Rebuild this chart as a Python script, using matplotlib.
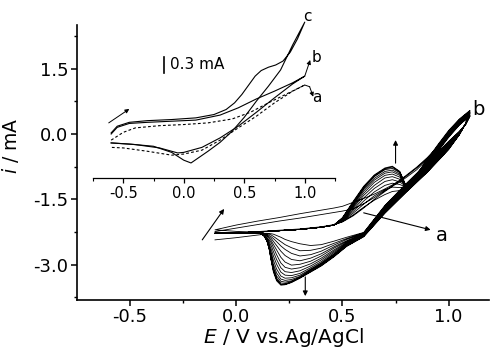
import matplotlib
matplotlib.use("Agg")
import matplotlib.pyplot as plt

plt.rcParams['font.family'] = ['DejaVu Sans']

# -------- MAIN CV: repeated cycles (mA) --------
E_fwd = [-0.10, 0.00, 0.10, 0.20, 0.30, 0.40, 0.46, 0.50, 0.55, 0.60, 0.65,
         0.70, 0.735, 0.77, 0.80, 0.85, 0.90, 0.95, 1.00, 1.05, 1.10]
I_fwd = [
    [-2.20, -2.09, -2.00, -1.92, -1.83, -1.75, -1.70, -1.66, -1.57, -1.48, -1.38, -1.26, -1.17, -1.06, -0.95, -0.76, -0.54, -0.28, 0.00, 0.22, 0.40],
    [-2.24, -2.16, -2.08, -2.00, -1.93, -1.85, -1.80, -1.77, -1.72, -1.60, -1.46, -1.30, -1.19, -1.07, -0.97, -0.78, -0.56, -0.30, -0.01, 0.22, 0.41],
    [-2.28, -2.26, -2.24, -2.21, -2.18, -2.13, -2.08, -2.02, -1.88, -1.70, -1.50, -1.32, -1.20, -1.10, -1.00, -0.82, -0.58, -0.31, -0.02, 0.22, 0.41],
    [-2.28, -2.27, -2.25, -2.22, -2.19, -2.14, -2.09, -2.01, -1.86, -1.68, -1.52, -1.39, -1.32, -1.30, -1.22, -1.02, -0.72, -0.40, -0.08, 0.20, 0.42],
    [-2.28, -2.27, -2.25, -2.22, -2.19, -2.14, -2.09, -2.00, -1.82, -1.61, -1.42, -1.28, -1.22, -1.23, -1.22, -1.01, -0.71, -0.38, -0.06, 0.21, 0.43],
    [-2.28, -2.27, -2.25, -2.22, -2.19, -2.14, -2.09, -1.99, -1.78, -1.54, -1.33, -1.18, -1.13, -1.16, -1.22, -1.00, -0.69, -0.37, -0.05, 0.23, 0.44],
    [-2.28, -2.27, -2.25, -2.22, -2.19, -2.14, -2.09, -1.98, -1.74, -1.47, -1.25, -1.09, -1.05, -1.10, -1.21, -0.99, -0.68, -0.35, -0.03, 0.24, 0.46],
    [-2.28, -2.27, -2.25, -2.22, -2.19, -2.14, -2.09, -1.97, -1.70, -1.41, -1.18, -1.01, -0.98, -1.04, -1.21, -0.98, -0.66, -0.34, -0.02, 0.26, 0.47],
    [-2.28, -2.27, -2.25, -2.22, -2.19, -2.14, -2.09, -1.96, -1.67, -1.36, -1.11, -0.95, -0.92, -0.99, -1.21, -0.97, -0.65, -0.32, 0.00, 0.27, 0.48],
    [-2.28, -2.27, -2.25, -2.22, -2.19, -2.14, -2.09, -1.95, -1.64, -1.31, -1.06, -0.90, -0.87, -0.95, -1.20, -0.96, -0.64, -0.30, 0.02, 0.28, 0.49],
    [-2.28, -2.27, -2.25, -2.22, -2.19, -2.14, -2.09, -1.94, -1.61, -1.27, -1.02, -0.86, -0.83, -0.92, -1.20, -0.95, -0.62, -0.29, 0.03, 0.30, 0.50],
    [-2.28, -2.27, -2.25, -2.22, -2.19, -2.14, -2.09, -1.93, -1.59, -1.24, -0.98, -0.82, -0.79, -0.89, -1.20, -0.94, -0.61, -0.27, 0.05, 0.31, 0.51],
    [-2.28, -2.27, -2.25, -2.22, -2.19, -2.14, -2.09, -1.93, -1.57, -1.22, -0.96, -0.80, -0.76, -0.87, -1.20, -0.93, -0.59, -0.26, 0.06, 0.33, 0.53],
    [-2.28, -2.27, -2.25, -2.22, -2.19, -2.14, -2.09, -1.92, -1.55, -1.20, -0.94, -0.78, -0.74, -0.86, -1.20, -0.92, -0.58, -0.24, 0.08, 0.34, 0.54],
]

E_rev = [1.10, 1.08, 1.05, 1.00, 0.90, 0.80, 0.70, 0.60, 0.52, 0.46, 0.40, 0.35, 0.30,
         0.26, 0.23, 0.21, 0.19, 0.175, 0.165, 0.155, 0.145, 0.13, 0.11, 0.00, -0.10]
I_rev = [
    [0.40, 0.22, 0.06, -0.17, -0.66, -1.14, -1.64, -2.26, -2.37, -2.46, -2.54, -2.56, -2.52, -2.47, -2.42, -2.37, -2.33, -2.30, -2.29, -2.285, -2.28, -2.28, -2.28, -2.28, -2.28],
    [0.41, 0.22, 0.05, -0.18, -0.68, -1.15, -1.65, -2.27, -2.40, -2.51, -2.62, -2.67, -2.68, -2.61, -2.54, -2.47, -2.40, -2.35, -2.32, -2.30, -2.29, -2.28, -2.28, -2.28, -2.28],
    [0.41, 0.22, 0.04, -0.20, -0.70, -1.17, -1.67, -2.28, -2.42, -2.55, -2.69, -2.77, -2.80, -2.74, -2.65, -2.57, -2.47, -2.40, -2.36, -2.33, -2.31, -2.29, -2.28, -2.28, -2.28],
    [0.42, 0.22, 0.03, -0.22, -0.72, -1.19, -1.68, -2.29, -2.45, -2.59, -2.75, -2.85, -2.91, -2.88, -2.79, -2.69, -2.56, -2.46, -2.40, -2.36, -2.33, -2.30, -2.28, -2.28, -2.28],
    [0.43, 0.22, 0.02, -0.24, -0.74, -1.21, -1.70, -2.30, -2.47, -2.62, -2.80, -2.92, -2.99, -3.01, -2.94, -2.83, -2.66, -2.53, -2.45, -2.39, -2.35, -2.31, -2.28, -2.28, -2.28],
    [0.44, 0.23, 0.02, -0.26, -0.76, -1.22, -1.71, -2.31, -2.49, -2.66, -2.85, -2.98, -3.07, -3.10, -3.06, -2.96, -2.77, -2.61, -2.50, -2.43, -2.38, -2.32, -2.28, -2.28, -2.28],
    [0.46, 0.23, 0.01, -0.27, -0.78, -1.24, -1.73, -2.32, -2.51, -2.69, -2.89, -3.03, -3.14, -3.18, -3.16, -3.07, -2.88, -2.70, -2.57, -2.47, -2.40, -2.32, -2.28, -2.28, -2.28],
    [0.47, 0.23, 0.00, -0.29, -0.80, -1.26, -1.74, -2.33, -2.53, -2.72, -2.93, -3.07, -3.20, -3.25, -3.24, -3.17, -2.99, -2.80, -2.65, -2.52, -2.42, -2.33, -2.28, -2.28, -2.28],
    [0.48, 0.24, 0.00, -0.30, -0.81, -1.28, -1.76, -2.33, -2.54, -2.75, -2.96, -3.10, -3.24, -3.30, -3.31, -3.26, -3.10, -2.90, -2.73, -2.57, -2.44, -2.33, -2.28, -2.28, -2.28],
    [0.49, 0.24, -0.01, -0.32, -0.83, -1.29, -1.77, -2.34, -2.55, -2.77, -2.98, -3.12, -3.27, -3.34, -3.36, -3.33, -3.19, -2.99, -2.80, -2.60, -2.45, -2.33, -2.28, -2.28, -2.28],
    [0.50, 0.24, -0.01, -0.33, -0.84, -1.30, -1.78, -2.34, -2.56, -2.79, -3.00, -3.14, -3.29, -3.37, -3.40, -3.38, -3.26, -3.06, -2.85, -2.62, -2.46, -2.33, -2.28, -2.28, -2.28],
    [0.51, 0.24, -0.02, -0.34, -0.86, -1.32, -1.80, -2.35, -2.57, -2.80, -3.01, -3.15, -3.30, -3.39, -3.43, -3.42, -3.31, -3.11, -2.89, -2.63, -2.46, -2.33, -2.28, -2.28, -2.28],
    [0.53, 0.24, -0.02, -0.35, -0.87, -1.33, -1.81, -2.35, -2.57, -2.81, -3.02, -3.16, -3.30, -3.40, -3.45, -3.45, -3.34, -3.14, -2.91, -2.64, -2.46, -2.33, -2.28, -2.28, -2.28],
    [0.54, 0.24, -0.02, -0.36, -0.88, -1.34, -1.82, -2.36, -2.58, -2.82, -3.03, -3.17, -3.31, -3.41, -3.46, -3.47, -3.37, -3.17, -2.92, -2.64, -2.46, -2.33, -2.28, -2.28, -2.28],
]

# first sweep start
E_start = [-0.10, 0.00, 0.10, 0.15]
I_start = [-2.43, -2.38, -2.32, -2.29]

# -------- INSET: curves a (dashed), b, c --------
a_fwd_E = [-0.60, -0.50, -0.40, -0.20, 0.00, 0.20, 0.40, 0.55, 0.70, 0.85, 1.00]
a_fwd_i = [0.18, 0.32, 0.40, 0.44, 0.46, 0.49, 0.56, 0.68, 0.85, 1.01, 1.17]
a_rev_E = [1.00, 0.90, 0.75, 0.60, 0.45, 0.30, 0.15, 0.00, -0.10, -0.30, -0.50, -0.60]
a_rev_i = [1.17, 1.06, 0.85, 0.61, 0.40, 0.18, 0.00, -0.07, -0.09, -0.02, 0.04, 0.05]

b_fwd_E = [-0.60, -0.55, -0.45, -0.30, -0.10, 0.10, 0.30, 0.45, 0.60, 0.75, 0.90, 1.00]
b_fwd_i = [0.29, 0.41, 0.48, 0.50, 0.52, 0.54, 0.63, 0.76, 0.92, 1.06, 1.21, 1.33]
b_rev_E = [1.00, 0.90, 0.75, 0.60, 0.45, 0.30, 0.15, 0.00, -0.05, -0.20, -0.40, -0.60]
b_rev_i = [1.33, 1.19, 0.94, 0.68, 0.43, 0.22, 0.05, -0.04, -0.05, 0.04, 0.10, 0.13]

c_fwd_E = [-0.60, -0.55, -0.45, -0.30, -0.10, 0.10, 0.25, 0.35, 0.42, 0.48, 0.54,
           0.59, 0.64, 0.70, 0.76, 0.82, 0.88, 0.94, 1.00]
c_fwd_i = [0.31, 0.43, 0.50, 0.53, 0.55, 0.58, 0.64, 0.73, 0.85, 1.00, 1.18,
           1.33, 1.43, 1.49, 1.53, 1.60, 1.76, 2.00, 2.30]
c_rev_E = [1.00, 0.90, 0.80, 0.70, 0.60, 0.50, 0.40, 0.30, 0.20, 0.12, 0.06, 0.00, -0.10, -0.25, -0.45, -0.60]
c_rev_i = [2.30, 1.89, 1.44, 1.15, 0.88, 0.59, 0.34, 0.14, -0.02, -0.14, -0.23, -0.18, -0.04, 0.07, 0.11, 0.13]

# -------- FIGURE --------
fig = plt.figure(figsize=(4.9, 3.51), dpi=100)
ax = fig.add_axes([0.157, 0.1453, 0.841, 0.7835])

E_all = list(E_start)
I_all = list(I_start)
for k in range(len(I_fwd)):
    E_all += E_fwd + E_rev
    I_all += I_fwd[k] + I_rev[k]
ax.plot(E_all, I_all, color='k', lw=0.6)

ax.set_xlim(-0.75, 1.19)
ax.set_ylim(-3.81, 2.5)
ax.set_xticks([-0.5, 0.0, 0.5, 1.0])
ax.set_xticks([-0.25, 0.25, 0.75], minor=True)
ax.set_yticks([-3.0, -1.5, 0.0, 1.5])
ax.set_yticks([-3.75, -2.25, -0.75, 0.75, 2.25], minor=True)
ax.set_xticklabels(['-0.5', '0.0', '0.5', '1.0'])
ax.set_yticklabels(['-3.0', '-1.5', '0.0', '1.5'])
ax.tick_params(which='major', direction='out', length=4, width=1.1, labelsize=13, pad=2)
ax.tick_params(which='minor', direction='out', length=2.5, width=1.0)
for s in ['top', 'right']:
    ax.spines[s].set_visible(False)
for s in ['left', 'bottom']:
    ax.spines[s].set_linewidth(1.2)

ax.set_xlabel('$\\it{E}$ / V vs.Ag/AgCl', fontsize=14.5, labelpad=0)
ax.set_ylabel('$\\it{i}$ / mA', fontsize=13.5)
ax.yaxis.set_label_coords(-0.135, 0.56)

arw = dict(arrowstyle='-|>', color='k', lw=0.8, mutation_scale=7, shrinkA=0, shrinkB=0)
ax.annotate('', xy=(0.75, -0.14), xytext=(0.75, -0.67), arrowprops=arw)
ax.annotate('', xy=(0.325, -3.72), xytext=(0.325, -3.28), arrowprops=arw)
ax.annotate('', xy=(-0.057, -1.72), xytext=(-0.16, -2.43), arrowprops=arw)
ax.annotate('', xy=(0.915, -2.2), xytext=(0.60, -1.81), arrowprops=arw)
ax.text(0.97, -2.32, 'a', fontsize=14, ha='center', va='center')
ax.text(1.142, 0.55, 'b', fontsize=14, ha='center', va='center')

# -------- INSET --------
ins = fig.add_axes([0.1898, 0.4929, 0.4939, 0.4758])
ins.set_facecolor('none')
ins.plot(a_fwd_E + a_rev_E, a_fwd_i + a_rev_i, color='k', lw=0.8, ls=(0, (2.5, 2)))
ins.plot(b_fwd_E + b_rev_E, b_fwd_i + b_rev_i, color='k', lw=0.8)
ins.plot(c_fwd_E + c_rev_E, c_fwd_i + c_rev_i, color='k', lw=0.8)
ins.set_xlim(-0.74, 1.25)
ins.set_ylim(-0.5, 2.5)
ins.set_yticks([])
ins.set_xticks([-0.5, 0.0, 0.5, 1.0])
ins.set_xticks([-0.75, -0.25, 0.25, 0.75, 1.25], minor=True)
ins.set_xticklabels(['-0.5', '0.0', '0.5', '1.0'])
ins.tick_params(which='major', direction='out', length=3.5, width=0.9, labelsize=10.5, pad=2)
ins.tick_params(which='minor', direction='out', length=2.5, width=0.8)
for s in ['top', 'right', 'left']:
    ins.spines[s].set_visible(False)
ins.spines['bottom'].set_linewidth(0.9)

ins.plot([-0.16, -0.16], [1.38, 1.68], color='k', lw=1.2)
ins.text(-0.11, 1.53, '0.3 mA', fontsize=11, ha='left', va='center')

arw2 = dict(arrowstyle='-|>', color='k', lw=0.7, mutation_scale=6, shrinkA=0, shrinkB=0)
ins.annotate('', xy=(-0.45, 0.74), xytext=(-0.62, 0.49), arrowprops=arw2)
ins.annotate('', xy=(1.045, 1.62), xytext=(1.0, 1.33), arrowprops=arw2)
ins.plot([1.0, 1.04], [1.17, 1.14], color='k', lw=0.7)
ins.annotate('', xy=(1.07, 0.96), xytext=(1.04, 1.14), arrowprops=arw2)
ins.text(1.025, 2.40, 'c', fontsize=11, ha='center', va='center')
ins.text(1.10, 1.67, 'b', fontsize=11, ha='center', va='center')
ins.text(1.10, 0.94, 'a', fontsize=11, ha='center', va='center')

fig.savefig('out.png', dpi=100)
